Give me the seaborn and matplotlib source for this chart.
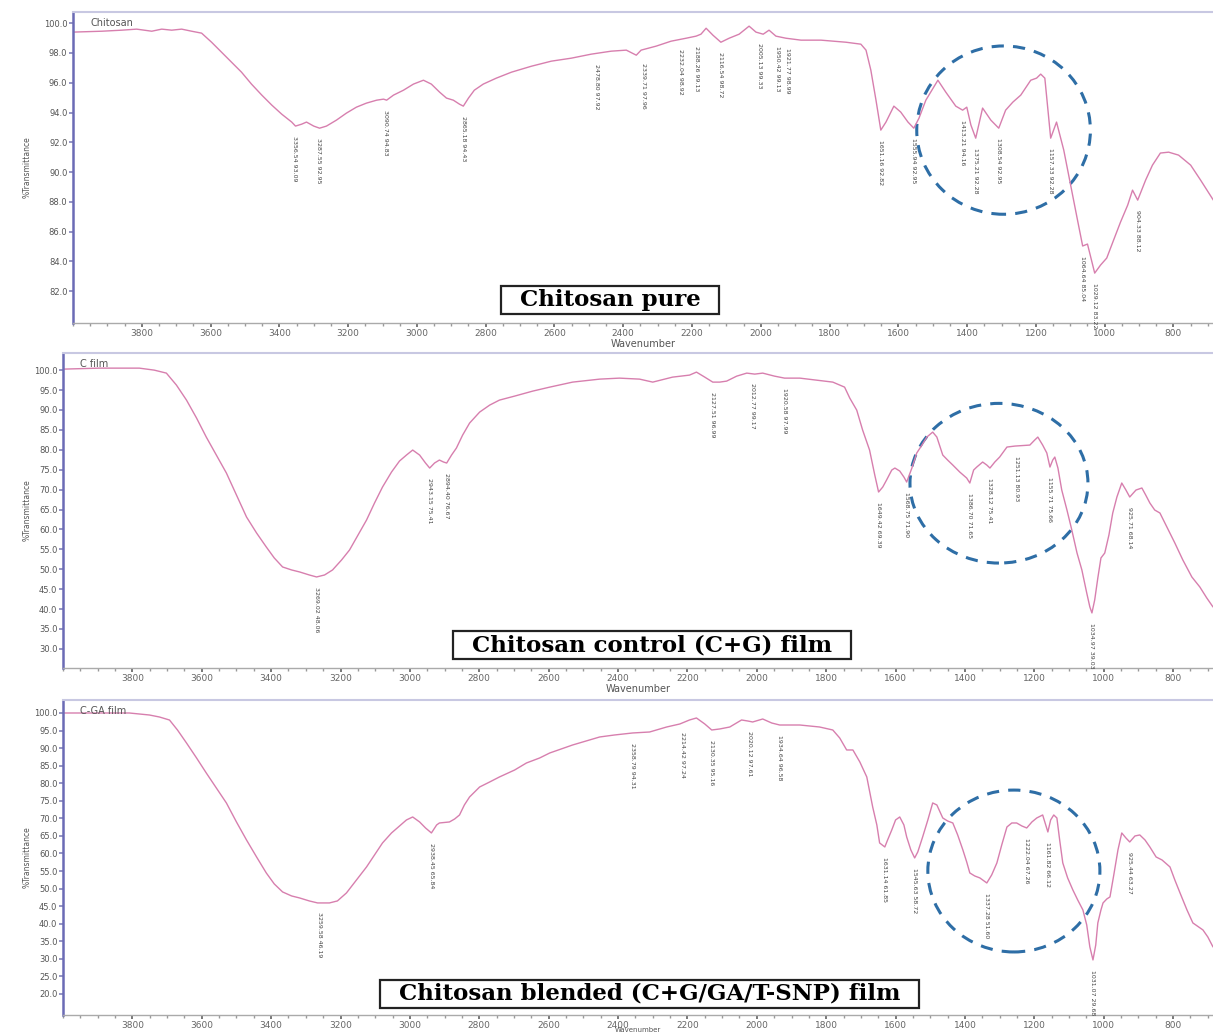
import matplotlib
matplotlib.use("Agg")
import matplotlib.pyplot as plt
import seaborn as sns
import numpy as np
from matplotlib.patches import Ellipse
from matplotlib.ticker import MultipleLocator, FormatStrFormatter

# ---- spectrum 1: chitosan pure (wavenumber, %T) ----
p1_wn = [4000, 3916, 3858, 3815, 3771, 3742, 3713, 3684, 3655, 3626,
         3597, 3568, 3539, 3510, 3481, 3451, 3422, 3393, 3364, 3353,
         3335, 3321, 3300, 3283, 3263, 3234, 3205, 3176, 3147, 3117,
         3097, 3088, 3068, 3039, 3010, 2981, 2958, 2934, 2914, 2894,
         2876, 2865, 2850, 2833, 2807, 2769, 2725, 2667, 2609, 2551,
         2493, 2435, 2391, 2362, 2348, 2304, 2261, 2217, 2188, 2174,
         2159, 2139, 2116, 2092, 2063, 2034, 2014, 1993, 1976, 1956,
         1927, 1883, 1825, 1752, 1709, 1694, 1680, 1665, 1651, 1636,
         1613, 1593, 1572, 1555, 1540, 1520, 1485, 1462, 1433, 1413,
         1401, 1389, 1375, 1355, 1331, 1308, 1288, 1267, 1244, 1215,
         1198, 1186, 1174, 1157, 1140, 1119, 1099, 1079, 1064, 1050,
         1029, 1012, 994, 974, 954, 933, 919, 904, 881, 861,
         838, 814, 785, 750, 721, 684]
p1_T = [99.40, 99.46, 99.53, 99.60, 99.46, 99.60, 99.53, 99.60, 99.46, 99.33,
        98.72, 98.05, 97.38, 96.71, 95.91, 95.17, 94.50, 93.89, 93.36, 93.09,
        93.22, 93.36, 93.09, 92.95, 93.09, 93.49, 93.96, 94.36, 94.63, 94.83,
        94.90, 94.83, 95.17, 95.50, 95.91, 96.17, 95.91, 95.37, 94.97, 94.83,
        94.56, 94.43, 94.97, 95.50, 95.91, 96.31, 96.71, 97.11, 97.45, 97.65,
        97.92, 98.12, 98.19, 97.85, 98.19, 98.46, 98.79, 98.99, 99.13, 99.26,
        99.66, 99.19, 98.72, 98.99, 99.26, 99.80, 99.40, 99.26, 99.53, 99.13,
        98.99, 98.86, 98.86, 98.72, 98.59, 98.19, 96.85, 94.83, 92.82, 93.36,
        94.43, 94.03, 93.36, 92.95, 93.62, 94.83, 96.17, 95.37, 94.43, 94.16,
        94.36, 93.16, 92.28, 94.30, 93.49, 92.95, 94.16, 94.70, 95.17, 96.17,
        96.31, 96.58, 96.31, 92.28, 93.36, 91.48, 89.13, 86.78, 85.04, 85.17,
        83.22, 83.76, 84.23, 85.44, 86.64, 87.79, 88.79, 88.12, 89.46, 90.47,
        91.28, 91.34, 91.14, 90.47, 89.46, 88.12]
pk1_wn = [3356.54, 3287.55, 3090.74, 2865.18, 2478.80, 2339.71, 2232.04,
          2188.26, 2116.54, 2005.13, 1950.42, 1921.77, 1651.16, 1555.94,
          1413.21, 1375.21, 1308.54, 1157.33, 1064.64, 1029.12, 904.33]
pk1_T = [93.09, 92.95, 94.83, 94.43, 97.92, 97.96, 98.92,
         99.13, 98.72, 99.33, 99.13, 98.99, 92.82, 92.95,
         94.16, 92.28, 92.95, 92.28, 85.04, 83.22, 88.12]

# ---- spectrum 2: C film ----
p2_wn = [4000, 3895, 3780, 3737, 3702, 3673, 3644, 3615, 3587, 3558,
         3529, 3500, 3471, 3442, 3414, 3391, 3367, 3341, 3318, 3290,
         3269, 3246, 3223, 3197, 3174, 3151, 3125, 3102, 3079, 3053,
         3030, 3010, 2992, 2972, 2955, 2943, 2929, 2915, 2903, 2894,
         2880, 2866, 2848, 2828, 2799, 2770, 2742, 2698, 2646, 2597,
         2531, 2453, 2396, 2338, 2300, 2243, 2194, 2174, 2150, 2127,
         2107, 2087, 2058, 2029, 2006, 1983, 1949, 1920, 1876, 1781,
         1747, 1732, 1712, 1695, 1675, 1660, 1649, 1637, 1626, 1611,
         1602, 1588, 1576, 1568, 1553, 1539, 1524, 1510, 1493, 1481,
         1464, 1450, 1435, 1415, 1395, 1386, 1375, 1366, 1349, 1337,
         1328, 1314, 1300, 1279, 1256, 1213, 1199, 1190, 1176, 1164,
         1155, 1147, 1141, 1132, 1121, 1106, 1092, 1077, 1063, 1049,
         1040, 1034, 1026, 1017, 1008, 997, 985, 974, 962, 948,
         936, 925, 907, 890, 879, 867, 853, 838, 818, 795,
         772, 746, 723, 703, 685]
p2_T = [100.25, 100.5, 100.5, 100.0, 99.25, 96.24, 92.47, 87.96, 83.19, 78.67,
        74.16, 68.64, 63.12, 59.10, 55.59, 52.83, 50.57, 49.82, 49.32, 48.56,
        48.06, 48.56, 49.82, 52.33, 54.84, 58.35, 62.36, 66.63, 70.64, 74.41,
        77.17, 78.67, 79.93, 78.67, 76.67, 75.41, 76.67, 77.42, 76.92, 76.67,
        78.67, 80.43, 83.69, 86.70, 89.46, 91.22, 92.47, 93.48, 94.73, 95.73,
        96.99, 97.74, 97.99, 97.74, 96.99, 98.24, 98.75, 99.50, 98.24, 96.99,
        96.99, 97.24, 98.49, 99.25, 99.00, 99.25, 98.49, 97.99, 97.99, 96.99,
        95.73, 92.97, 89.96, 84.95, 79.93, 73.66, 69.39, 70.64, 72.40, 74.91,
        75.41, 74.66, 73.15, 71.90, 75.41, 79.18, 81.18, 83.19, 84.44, 83.19,
        78.67, 77.42, 76.16, 74.41, 72.90, 71.65, 74.91, 75.66, 76.92, 76.16,
        75.41, 76.92, 78.17, 80.68, 80.93, 81.18, 82.44, 83.19, 81.18, 79.18,
        75.66, 77.42, 78.17, 75.41, 69.89, 64.87, 59.85, 54.08, 49.82, 44.05,
        40.53, 39.03, 42.29, 47.81, 52.83, 54.08, 58.60, 64.12, 68.14, 71.65,
        69.89, 68.14, 69.89, 70.40, 68.64, 66.63, 64.87, 64.12, 60.61, 56.59,
        52.33, 48.06, 45.55, 42.79, 40.53]
pk2_wn = [3269.02, 2943.15, 2894.40, 2127.51, 2012.77, 1920.58, 1649.42,
          1568.75, 1386.70, 1328.12, 1251.13, 1155.71, 1034.97, 925.71]
pk2_T = [48.06, 75.41, 76.67, 96.99, 99.17, 97.99, 69.39,
         71.90, 71.65, 75.41, 80.93, 75.66, 39.03, 68.14]

# ---- spectrum 3: C-GA film ----
p3_wn = [4000, 3895, 3809, 3751, 3722, 3693, 3670, 3644, 3615, 3587,
         3558, 3529, 3500, 3471, 3442, 3414, 3391, 3367, 3341, 3318,
         3290, 3266, 3232, 3209, 3183, 3154, 3125, 3102, 3079, 3053,
         3030, 3010, 2992, 2972, 2955, 2938, 2923, 2915, 2886, 2871,
         2857, 2843, 2828, 2799, 2770, 2742, 2698, 2664, 2626, 2597,
         2531, 2453, 2410, 2358, 2309, 2260, 2222, 2194, 2174, 2150,
         2130, 2107, 2078, 2044, 2026, 2012, 1983, 1957, 1934, 1876,
         1819, 1781, 1761, 1741, 1723, 1703, 1683, 1666, 1654, 1646,
         1631, 1623, 1611, 1600, 1588, 1576, 1568, 1556, 1545, 1536,
         1522, 1507, 1493, 1481, 1464, 1450, 1435, 1421, 1406, 1395,
         1386, 1372, 1357, 1337, 1323, 1308, 1294, 1279, 1265, 1251,
         1236, 1222, 1207, 1193, 1176, 1167, 1161, 1153, 1144, 1135,
         1127, 1118, 1104, 1089, 1075, 1060, 1049, 1040, 1031, 1023,
         1017, 1008, 1002, 991, 982, 971, 959, 948, 936, 925,
         910, 896, 881, 867, 849, 832, 809, 795, 780, 760,
         743, 714, 700, 685]
p3_T = [100.0, 100.0, 100.0, 99.43, 98.86, 98.00, 95.16, 91.46, 87.19, 82.92,
        78.65, 74.38, 68.97, 63.84, 59.00, 54.45, 51.32, 49.04, 47.90, 47.33,
        46.48, 45.91, 45.91, 46.48, 48.75, 52.45, 56.16, 59.57, 62.99, 65.84,
        67.83, 69.54, 70.39, 68.97, 67.26, 65.84, 68.11, 68.68, 68.97, 69.82,
        70.96, 73.81, 76.09, 78.93, 80.36, 81.78, 83.77, 85.77, 87.19, 88.61,
        90.89, 93.17, 93.74, 94.31, 94.59, 96.01, 96.87, 98.01, 98.58, 96.87,
        95.16, 95.45, 96.01, 98.01, 97.72, 97.44, 98.29, 97.15, 96.58, 96.58,
        96.01, 95.16, 92.88, 89.47, 89.47, 86.05, 81.78, 73.24, 68.11, 62.99,
        61.85, 63.84, 66.69, 69.54, 70.39, 68.11, 64.70, 61.00, 58.72, 60.43,
        64.70, 69.54, 74.38, 73.81, 70.11, 69.25, 68.68, 65.27, 61.00, 57.58,
        54.45, 53.60, 53.03, 51.60, 53.88, 57.30, 62.42, 67.54, 68.68, 68.68,
        67.83, 67.26, 68.97, 70.11, 70.96, 68.11, 66.12, 69.54, 70.96, 70.11,
        63.84, 57.30, 53.03, 49.61, 46.76, 43.91, 39.64, 33.38, 29.68, 33.95,
        40.21, 43.91, 45.91, 47.05, 47.62, 53.88, 61.00, 65.84, 64.41, 63.27,
        64.98, 65.27, 63.84, 61.85, 59.00, 58.15, 56.16, 52.45, 48.75, 43.91,
        40.21, 38.22, 36.23, 33.38]
pk3_wn = [3259.58, 2938.45, 2358.79, 2214.42, 2130.35, 2020.12, 1934.64,
          1631.14, 1545.63, 1337.28, 1222.04, 1161.82, 1031.07, 925.44]
pk3_T = [46.19, 65.84, 94.31, 97.24, 95.16, 97.61, 96.58,
         61.85, 58.72, 51.60, 67.26, 66.12, 29.68, 63.27]

sample_names = ["Chitosan", "C film", "C-GA film"]
box_titles = ["Chitosan pure", "Chitosan control (C+G) film",
              "Chitosan blended (C+G/GA/T-SNP) film"]
y_ticks = [np.arange(82, 101, 2), np.arange(30, 101, 5), np.arange(20, 101, 5)]
x_ticks = np.arange(800, 3801, 200)

# layout / styling
W, H = 1213, 1032
axes_px = [(73, 12, 323), (63, 353, 668), (63, 700, 1015)]   # left, top, bottom
y_lims = [(79.87, 100.75), (25.2, 104.3), (14.0, 103.7)]
x_lim = (4000, 685)
circles = [(1294, 92.82, 505, 11.3), (1302, 71.6, 513, 40.1), (1259, 55.0, 496, 46.1)]
box_pos = [(0.471, 0.074), (0.512, 0.073), (0.51, 0.067)]
line_col = "#d77fae"

sns.set_theme(style="white")
plt.rcParams['font.family'] = ['DejaVu Sans']

fig = plt.figure(figsize=(W / 100, H / 100), dpi=100)
data = [(p1_wn, p1_T, pk1_wn, pk1_T), (p2_wn, p2_T, pk2_wn, pk2_T),
        (p3_wn, p3_T, pk3_wn, pk3_T)]

for i, (wn, T, pwn, pT) in enumerate(data):
    l, t, b = axes_px[i]
    ax = fig.add_axes([l / W, (H - b) / H, 1 - l / W, (b - t) / H])
    sns.lineplot(x=wn, y=T, ax=ax, color=line_col, lw=1.0, sort=False,
                 estimator=None)
    ax.set_xlim(*x_lim)
    ax.set_ylim(*y_lims[i])
    ax.set_xticks(x_ticks)
    ax.xaxis.set_minor_locator(MultipleLocator(50))
    ax.set_yticks(y_ticks[i])
    ax.yaxis.set_major_formatter(FormatStrFormatter('%.1f'))
    ax.tick_params(axis='x', which='major', labelsize=6.5, colors='#666666',
                   length=3, direction='out', pad=1)
    ax.tick_params(axis='x', which='minor', length=2, colors='#999999',
                   direction='out')
    ax.tick_params(axis='y', labelsize=6, colors='#8888bb', labelcolor='#555555',
                   length=3, direction='out', pad=1)
    ax.tick_params(left=True, bottom=True, which='both')
    for s in ax.spines.values():
        s.set_visible(True)
    ax.spines['left'].set_color('#6b6bb5')
    ax.spines['left'].set_linewidth(1.8)
    ax.spines['top'].set_color('#c8c8e2')
    ax.spines['top'].set_linewidth(1.5)
    ax.spines['bottom'].set_color('#aaaaaa')
    ax.spines['bottom'].set_linewidth(1.0)
    ax.spines['right'].set_visible(False)

    # the last panel's axis title sits right at the bottom edge, as in the source
    ax.set_xlabel("Wavenumber", fontsize=7 if i < 2 else 5, color='#555555',
                  labelpad=1 if i < 2 else -1.6)
    ax.set_ylabel("%Transmittance", fontsize=5.5, color='#555555')
    ax.yaxis.set_label_coords((32 - l) / (W - l), 0.5)

    ax.text(0.015, 0.965, sample_names[i], transform=ax.transAxes,
            fontsize=7, color='#555555', va='center', ha='left')

    for x0, y0 in zip(pwn, pT):
        ax.annotate(f"{x0:.2f} {y0:.2f}", xy=(x0, y0), xytext=(0, -7),
                    textcoords='offset points', rotation=270, ha='center',
                    va='top', fontsize=4.5, color='#444444')

    cx, cy, cw, ch = circles[i]
    ax.add_patch(Ellipse((cx, cy), cw, ch, fill=False, edgecolor='#2e6ea6',
                         lw=2.2, linestyle=(0, (4, 3))))

    bx, by = box_pos[i]
    ax.text(bx, by, "  " + box_titles[i] + "  ", transform=ax.transAxes,
            ha='center', va='center', fontsize=16.5, fontweight='bold',
            family='DejaVu Serif', color='black', zorder=5,
            bbox=dict(boxstyle='square,pad=0.12', fc='white', ec='#222222',
                      lw=1.6))

fig.savefig("out.png", dpi=100, facecolor='white')
